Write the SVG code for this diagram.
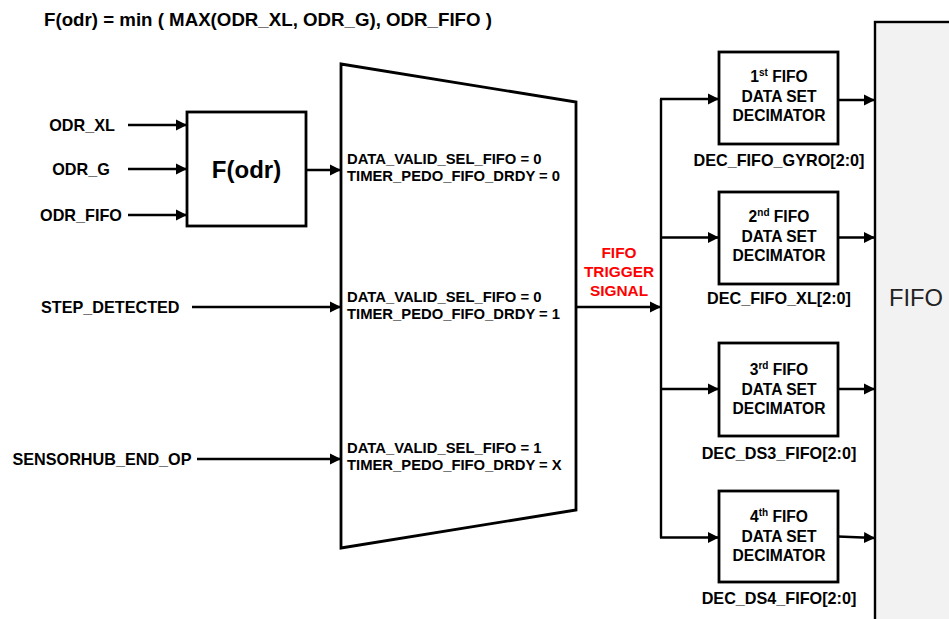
<svg xmlns="http://www.w3.org/2000/svg" width="949" height="619" viewBox="0 0 949 619">
<style>
text{font-family:"Liberation Sans",Arial,sans-serif;font-weight:bold;fill:#000}
.lbl{font-size:16.2px}
.mux{font-size:14.8px}
.box{fill:#fff;stroke:#000;stroke-width:2.8}
.dec{font-size:15.6px;text-anchor:middle}
.sig{font-size:15.4px;fill:#ff0000;text-anchor:middle}
.wire{fill:none;stroke:#000;stroke-width:2.4}
.arr{marker-end:url(#ah)}
</style>
<defs>
<marker id="ah" markerUnits="userSpaceOnUse" markerWidth="12" markerHeight="12" viewBox="0 0 12 12" refX="11" refY="6" orient="auto">
<path d="M0,0.5 L11,6 L0,11.5 Z" fill="#000"/>
</marker>
</defs>
<rect width="949" height="619" fill="#fff"/>
<text x="44" y="26" style="font-size:18.7px">F(odr) = min ( MAX(ODR_XL, ODR_G), ODR_FIFO )</text>

<g id="fifo">
<rect x="875" y="22" width="90" height="620" fill="#f2f2f2" stroke="#000" stroke-width="2.4"/>
<text x="889" y="306" style="font-size:23.7px;font-weight:normal;fill:#222">FIFO</text>
</g>

<g id="fodr">
<rect class="box" x="187" y="112" width="119" height="114"/>
<text x="246.5" y="178" style="font-size:24px;text-anchor:middle">F(odr)</text>
</g>

<g id="mux">
<path d="M341,64 L576,102 L576,510 L341,548 Z" fill="#fff" stroke="#000" stroke-width="2.8"/>
<text class="mux" x="347" y="164">DATA_VALID_SEL_FIFO = 0</text>
<text class="mux" x="347" y="181">TIMER_PEDO_FIFO_DRDY = 0</text>
<text class="mux" x="347" y="302">DATA_VALID_SEL_FIFO = 0</text>
<text class="mux" x="347" y="319">TIMER_PEDO_FIFO_DRDY = 1</text>
<text class="mux" x="347" y="453">DATA_VALID_SEL_FIFO = 1</text>
<text class="mux" x="347" y="470">TIMER_PEDO_FIFO_DRDY = X</text>
</g>

<g id="inputs">
<text class="lbl" x="82" y="131" text-anchor="middle">ODR_XL</text>
<text class="lbl" x="81" y="175" text-anchor="middle">ODR_G</text>
<text class="lbl" x="81" y="221" text-anchor="middle">ODR_FIFO</text>
<text class="lbl" x="41" y="313">STEP_DETECTED</text>
<text class="lbl" x="12.5" y="465">SENSORHUB_END_OP</text>
</g>

<g id="trigger-label">
<text class="sig" x="619" y="258">FIFO</text>
<text class="sig" x="619" y="277">TRIGGER</text>
<text class="sig" x="619" y="296">SIGNAL</text>
</g>

<g id="dec1">
<rect class="box" x="719" y="52" width="119" height="92"/>
<text class="dec" x="779" y="82">1<tspan font-size="10" dy="-6">st</tspan><tspan dy="6"> FIFO</tspan></text>
<text class="dec" x="779" y="102">DATA SET</text>
<text class="dec" x="779" y="121">DECIMATOR</text>
<text class="lbl" x="779" y="166" text-anchor="middle">DEC_FIFO_GYRO[2:0]</text>
</g>
<g id="dec2">
<rect class="box" x="719" y="192" width="119" height="92"/>
<text class="dec" x="779" y="222">2<tspan font-size="10" dy="-6">nd</tspan><tspan dy="6"> FIFO</tspan></text>
<text class="dec" x="779" y="242">DATA SET</text>
<text class="dec" x="779" y="261">DECIMATOR</text>
<text class="lbl" x="779" y="304" text-anchor="middle">DEC_FIFO_XL[2:0]</text>
</g>
<g id="dec3">
<rect class="box" x="719" y="343" width="119" height="93"/>
<text class="dec" x="779" y="375">3<tspan font-size="10" dy="-6">rd</tspan><tspan dy="6"> FIFO</tspan></text>
<text class="dec" x="779" y="394.5">DATA SET</text>
<text class="dec" x="779" y="414">DECIMATOR</text>
<text class="lbl" x="779" y="459" text-anchor="middle">DEC_DS3_FIFO[2:0]</text>
</g>
<g id="dec4">
<rect class="box" x="719" y="491" width="119" height="91"/>
<text class="dec" x="779" y="522">4<tspan font-size="10" dy="-6">th</tspan><tspan dy="6"> FIFO</tspan></text>
<text class="dec" x="779" y="541.5">DATA SET</text>
<text class="dec" x="779" y="561">DECIMATOR</text>
<text class="lbl" x="779" y="604" text-anchor="middle">DEC_DS4_FIFO[2:0]</text>
</g>

<g id="connectors">
<path class="wire arr" d="M128,125 H187"/>
<path class="wire arr" d="M128,169 H187"/>
<path class="wire arr" d="M128,215 H187"/>
<path class="wire arr" d="M306,170 H341"/>
<path class="wire arr" d="M192,307 H341"/>
<path class="wire arr" d="M197,459 H341"/>
<path class="wire arr" d="M576,307 H661"/>
<path class="wire" d="M661,99 V538"/>
<path class="wire arr" d="M660,99 H719"/>
<path class="wire arr" d="M660,237.5 H719"/>
<path class="wire arr" d="M660,389 H719"/>
<path class="wire arr" d="M660,537.5 H719"/>
<path class="wire arr" d="M838,100 H875"/>
<path class="wire arr" d="M838,237.5 H875"/>
<path class="wire arr" d="M838,389 H875"/>
<path class="wire arr" d="M838,536.5 L875,538"/>
</g>
</svg>
